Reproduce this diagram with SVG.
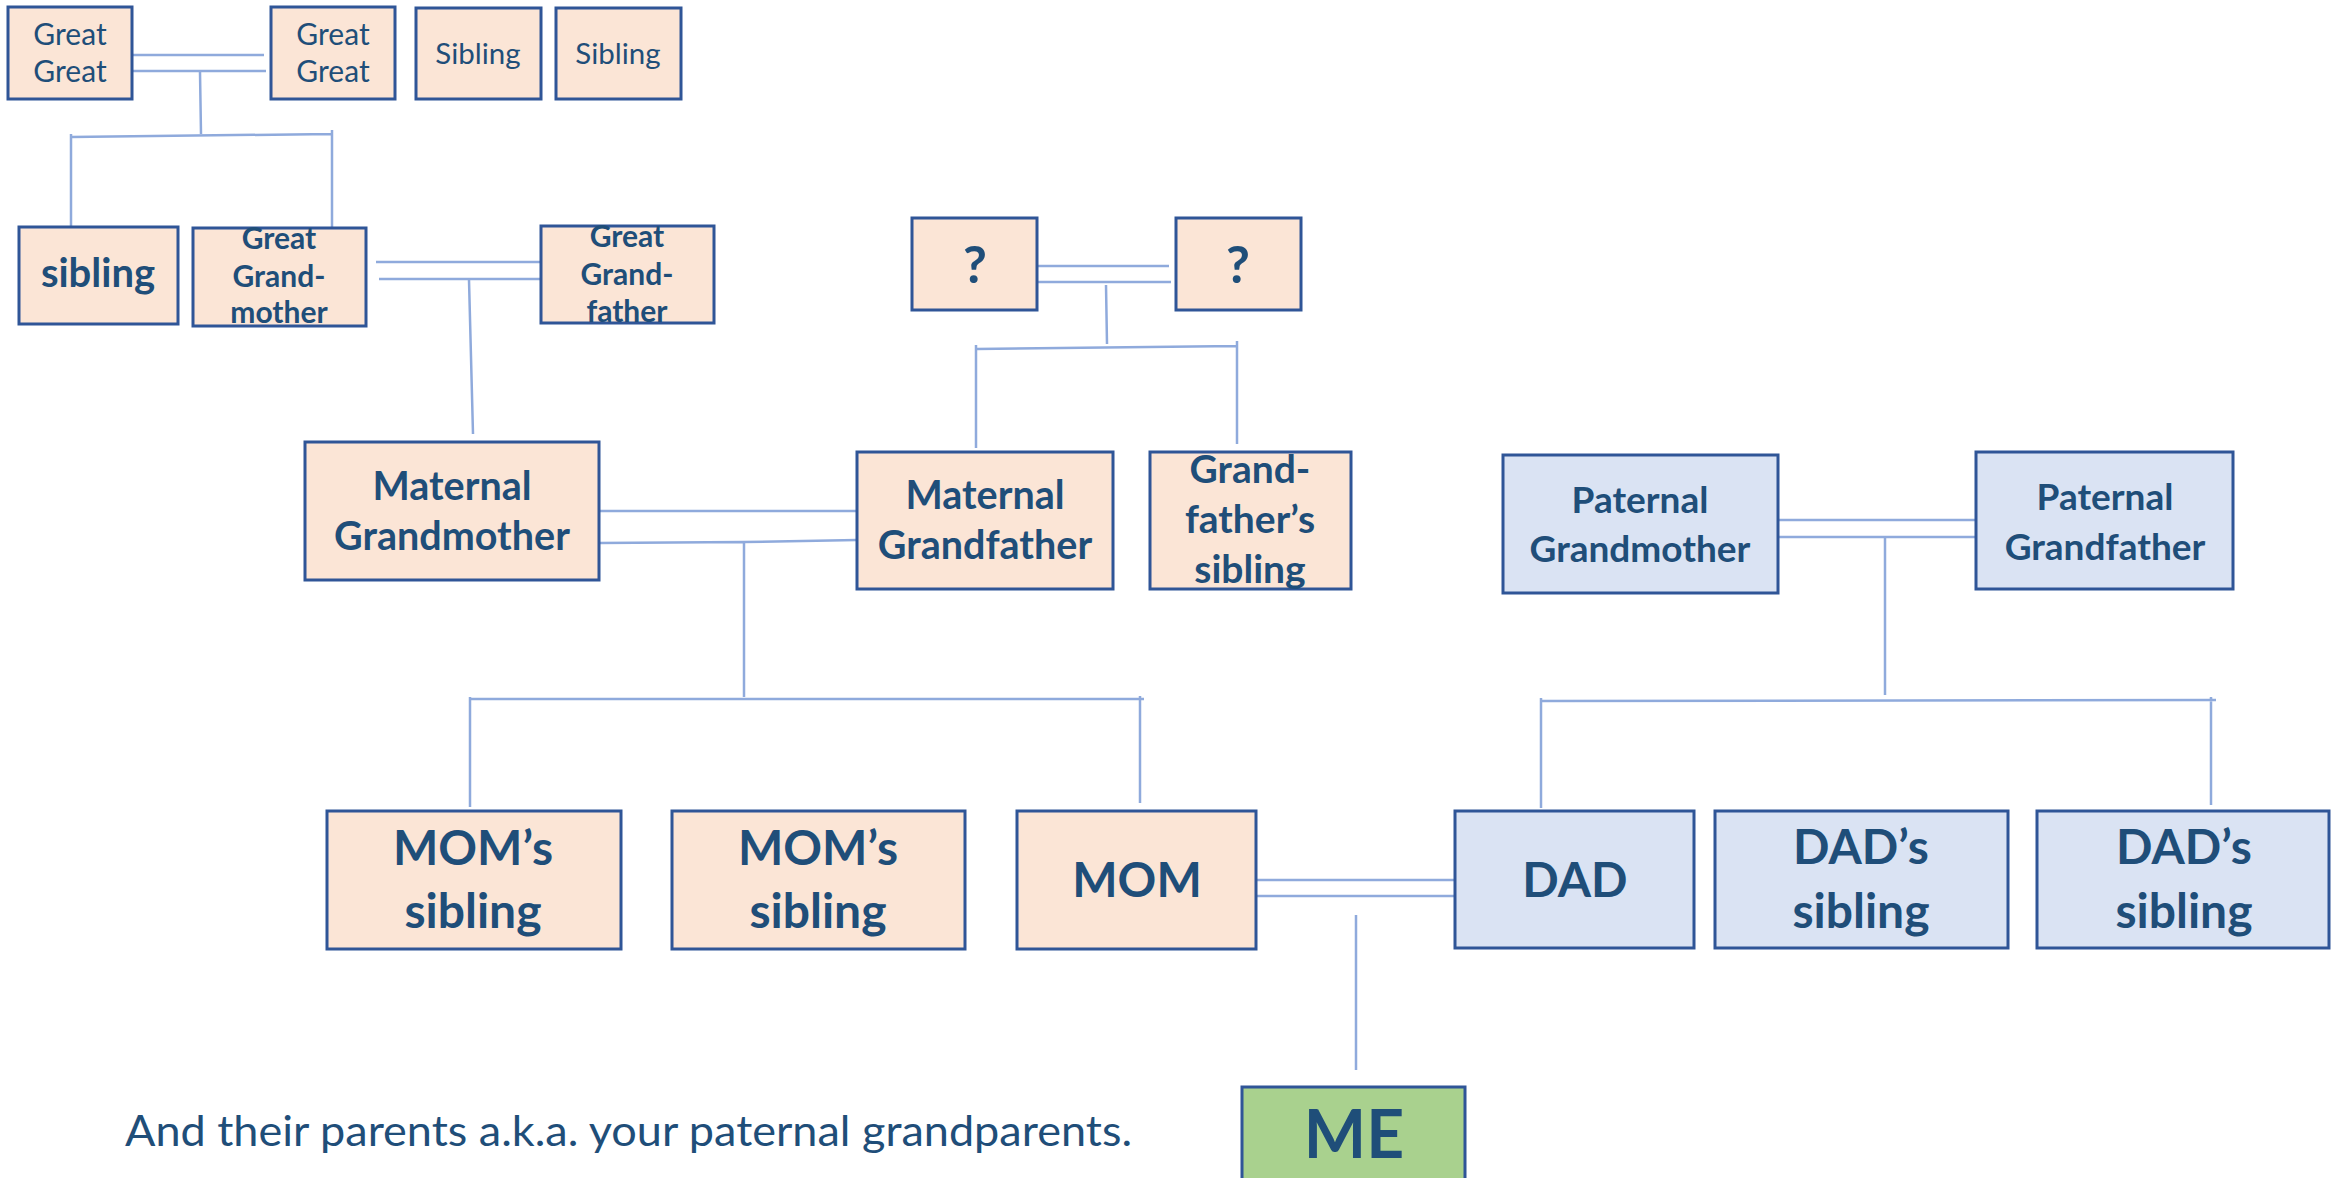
<svg xmlns="http://www.w3.org/2000/svg" width="2332" height="1178" viewBox="0 0 2332 1178">
<style>
.peach{fill:#FBE5D6;stroke:#2F5597;stroke-width:3}
.blue{fill:#DAE3F3;stroke:#2F5597;stroke-width:3}
.green{fill:#A9D18E;stroke:#2F5597;stroke-width:3}
.t{font-family:Lato,"Liberation Sans",sans-serif;fill:#1F4E79;text-anchor:middle}
.b{font-weight:bold}
.c{fill:none;stroke:#8FAADC;stroke-width:2.5}
</style>
<rect width="2332" height="1178" fill="#FFFFFF"/>
<g id="connectors">
<path class="c" d="M132 55H264M132 71H266M200 72L201 134M71 137L332 134M71 134V237M332 130V232"/>
<path class="c" d="M376 262H541M379 279H541M469 280L473 434"/>
<path class="c" d="M1037 266H1169M1037 282H1171M1106 285L1107 344M976 349L1237 346M976 345V448M1237 341V444"/>
<path class="c" d="M599 511H857M599 543L744 542L857 540M744 543V697M470 699H1144M470 697V807M1140 696V803"/>
<path class="c" d="M1778 520H1976M1778 537H1976M1885 537V695M1541 701L2216 700M1541 698V808M2211 697V805"/>
<path class="c" d="M1256 880H1455M1256 896H1455M1356 915V1070"/>
</g>
<g id="gg1"><rect class="peach" x="8" y="7" width="124" height="92"/><text class="t" font-size="30" x="70" y="45">Great</text><text class="t" font-size="30" x="70" y="82">Great</text></g>
<g id="gg2"><rect class="peach" x="271" y="7" width="124" height="92"/><text class="t" font-size="30" x="333" y="45">Great</text><text class="t" font-size="30" x="333" y="82">Great</text></g>
<g id="sib1"><rect class="peach" x="416" y="8" width="125" height="91"/><text class="t" font-size="29.5" x="478" y="64">Sibling</text></g>
<g id="sib2"><rect class="peach" x="556" y="8" width="125" height="91"/><text class="t" font-size="29.5" x="618" y="64">Sibling</text></g>
<g id="sibling"><rect class="peach" x="19" y="227" width="159" height="97"/><text class="t b" font-size="40" x="98" y="287">sibling</text></g>
<g id="great-grandmother"><rect class="peach" x="193" y="228" width="173" height="98"/><text class="t b" font-size="30" x="279" y="249">Great</text><text class="t b" font-size="30" x="279" y="287">Grand-</text><text class="t b" font-size="30" x="279" y="323">mother</text></g>
<g id="great-grandfather"><rect class="peach" x="541" y="226" width="173" height="97"/><text class="t b" font-size="30" x="627" y="247">Great</text><text class="t b" font-size="30" x="627" y="285">Grand-</text><text class="t b" font-size="30" x="627" y="322">father</text></g>
<g id="q1"><rect class="peach" x="912" y="218" width="125" height="92"/><text class="t b" font-size="52" x="975" y="283">?</text></g>
<g id="q2"><rect class="peach" x="1176" y="218" width="125" height="92"/><text class="t b" font-size="52" x="1238" y="283">?</text></g>
<g id="maternal-grandmother"><rect class="peach" x="305" y="442" width="294" height="138"/><text class="t b" font-size="39.5" x="452" y="500">Maternal</text><text class="t b" font-size="39.5" x="452" y="550">Grandmother</text></g>
<g id="maternal-grandfather"><rect class="peach" x="857" y="452" width="256" height="137"/><text class="t b" font-size="39.5" x="985" y="509">Maternal</text><text class="t b" font-size="39.5" x="985" y="559">Grandfather</text></g>
<g id="grandfathers-sibling"><rect class="peach" x="1150" y="452" width="201" height="137"/><text class="t b" font-size="39" x="1250" y="483">Grand-</text><text class="t b" font-size="39" x="1250" y="533">father’s</text><text class="t b" font-size="39" x="1250" y="583">sibling</text></g>
<g id="paternal-grandmother"><rect class="blue" x="1503" y="455" width="275" height="138"/><text class="t b" font-size="37" x="1640" y="513">Paternal</text><text class="t b" font-size="37" x="1640" y="562">Grandmother</text></g>
<g id="paternal-grandfather"><rect class="blue" x="1976" y="452" width="257" height="137"/><text class="t b" font-size="37" x="2105" y="510">Paternal</text><text class="t b" font-size="37" x="2105" y="560">Grandfather</text></g>
<g id="moms-sibling-1"><rect class="peach" x="327" y="811" width="294" height="138"/><text class="t b" font-size="48" x="473" y="865">MOM’s</text><text class="t b" font-size="48" x="473" y="928">sibling</text></g>
<g id="moms-sibling-2"><rect class="peach" x="672" y="811" width="293" height="138"/><text class="t b" font-size="48" x="818" y="865">MOM’s</text><text class="t b" font-size="48" x="818" y="928">sibling</text></g>
<g id="mom"><rect class="peach" x="1017" y="811" width="239" height="138"/><text class="t b" font-size="48" x="1137" y="897">MOM</text></g>
<g id="dad"><rect class="blue" x="1455" y="811" width="239" height="137"/><text class="t b" font-size="48" x="1575" y="897">DAD</text></g>
<g id="dads-sibling-1"><rect class="blue" x="1715" y="811" width="293" height="137"/><text class="t b" font-size="48" x="1861" y="864">DAD’s</text><text class="t b" font-size="48" x="1861" y="928">sibling</text></g>
<g id="dads-sibling-2"><rect class="blue" x="2037" y="811" width="292" height="137"/><text class="t b" font-size="48" x="2184" y="864">DAD’s</text><text class="t b" font-size="48" x="2184" y="928">sibling</text></g>
<g id="me"><rect class="green" x="1242" y="1087" width="223" height="100"/><text class="t b" font-size="66" x="1354" y="1158">ME</text></g>
<text font-family="Lato,'Liberation Sans',sans-serif" fill="#1F4E79" font-size="43" x="125" y="1146" textLength="1007" lengthAdjust="spacingAndGlyphs">And their parents a.k.a. your paternal grandparents.</text>
</svg>
